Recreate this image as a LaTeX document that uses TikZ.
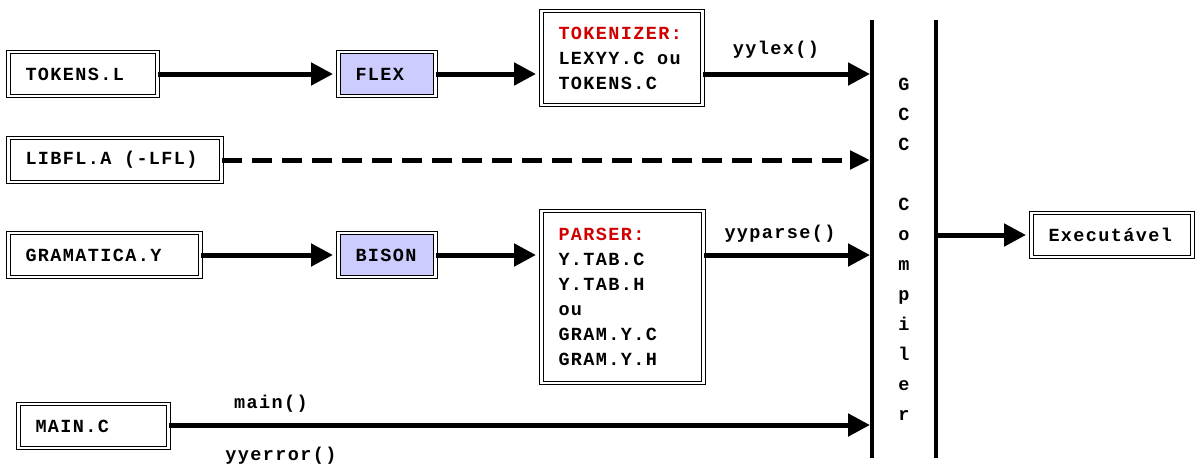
\documentclass[tikz,border=0pt]{standalone}
\usepackage{fontspec}
\setmonofont{Liberation Mono}[LetterSpace=7.5]
\usetikzlibrary{arrows.meta,calc}
\definecolor{boxblue}{HTML}{CCCCFF}
\definecolor{labelred}{HTML}{D00000}
% one full monospace cell of blank space
\newcommand{\cellgap}{\hspace*{12.5pt}}
\tikzset{
  filebox/.style={draw, double, double distance=2.2pt, line width=1pt,
    inner xsep=17pt, inner ysep=4pt, align=left, minimum height=44pt,
    font=\ttfamily\bfseries\fontsize{18.5}{25}\selectfont},
  toolbox/.style={filebox, fill=boxblue},
  flow/.style={line width=5pt, -{Triangle[length=22pt,width=22pt]}, shorten >=5pt},
  dashflow/.style={line width=5pt, dash pattern=on 20pt off 10pt,
    -{Triangle[length=20pt,width=18pt]}},
  bus/.style={line width=4.5pt},
  lbl/.style={font=\ttfamily\bfseries\fontsize{18.5}{25}\selectfont, inner sep=0pt}
}
\begin{document}
\begin{tikzpicture}[x=1pt,y=-1pt]
\useasboundingbox (0,0) rectangle (1196,464);

% source files
\node[filebox, anchor=west, text width=115pt] (tokens) at (8,74) {TOKENS.L};
\node[filebox, anchor=west, text width=179pt] (libfl) at (8,160) {LIBFL.A\cellgap(-LFL)};
\node[filebox, anchor=west, text width=158pt] (gram) at (8,255) {GRAMATICA.Y};
\node[filebox, anchor=west, text width=116pt] (mainc) at (18,426) {MAIN.C};

% generators
\node[toolbox, anchor=west, text width=63pt] (flex) at (338,74) {FLEX};
\node[toolbox, anchor=west, text width=63pt] (bison) at (338,255) {BISON};

% generated sources
\node[filebox, anchor=west, text width=127pt, minimum height=94pt] (tokenizer) at (541,58)
  {\textcolor{labelred}{TOKENIZER:}\\LEXYY.C\cellgap ou\\TOKENS.C};
\node[filebox, anchor=west, text width=128pt, minimum height=172pt] (parser) at (541,297)
  {\textcolor{labelred}{PARSER:}\\Y.TAB.C\\Y.TAB.H\\ou\\GRAM.Y.C\\GRAM.Y.H};

% compiler bars
\coordinate (barLtop) at (872,20);
\coordinate (barLbot) at (872,458);
\coordinate (barRtop) at (936,20);
\coordinate (barRbot) at (936,458);
\draw[bus] (barLtop) -- (barLbot);
\draw[bus] (barRtop) -- (barRbot);
\node[lbl, align=center, font=\ttfamily\bfseries\fontsize{18.5}{30}\selectfont] (gcc) at (904,249)
  {G\\C\\C\\\mbox{}\\C\\o\\m\\p\\i\\l\\e\\r};

% inputs of the compiler
\coordinate (inLex) at (875,74);
\coordinate (inLib) at (870,160);
\coordinate (inParse) at (875,255);
\coordinate (inMain) at (875,425);

% output
\node[filebox, anchor=west, text width=127pt] (exe) at (1031,235) {Executável};

% connectors
\draw[flow] (tokens.east) -- (flex.west);
\draw[flow] (flex.east) -- (flex.east -| tokenizer.west);
\draw[flow] (tokenizer.east |- inLex) -- (inLex);
\draw[dashflow] (libfl.east) -- (inLib);
\draw[flow] (gram.east) -- (bison.west);
\draw[flow] (bison.east) -- (bison.east -| parser.west);
\draw[flow] (parser.east |- inParse) -- (inParse);
\draw[flow] (mainc.east |- inMain) -- (inMain);
\draw[flow] (barRtop |- exe.west) -- (exe.west);

% connector labels
\node[lbl] (lexlbl) at (776,50) {yylex()};
\node[lbl] (parselbl) at (780,234) {yyparse()};
\node[lbl] (mainlbl) at (271,404) {main()};
\node[lbl] (errlbl) at (281,456) {yyerror()};
\end{tikzpicture}
\end{document}
